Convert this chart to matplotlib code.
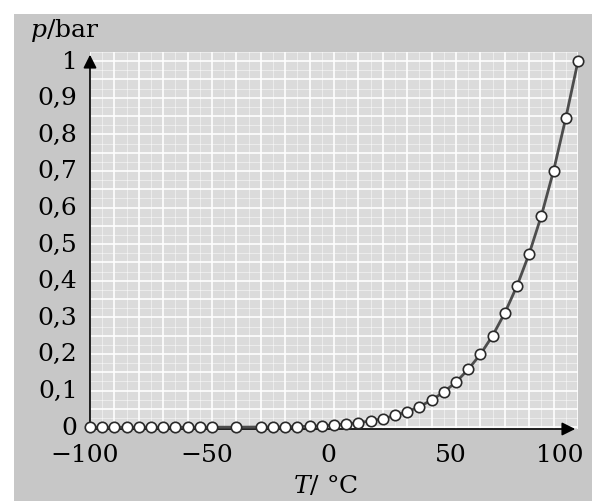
import matplotlib
matplotlib.use("Agg")
import matplotlib.pyplot as plt
import numpy as np
from matplotlib.patches import Rectangle
from matplotlib.ticker import MultipleLocator

# vapour pressure of water
temps = [-100, -95, -90, -85, -80, -75, -70, -65, -60, -55, -50,
         -40, -30, -25, -20, -15, -10, -5, 0, 5, 10, 15, 20, 25, 30,
         35, 40, 45, 50, 55, 60, 65, 70, 75, 80, 85, 90, 95, 100]
pressures = [0.0, 0.0, 0.0, 0.0, 0.0, 0.0, 0.0, 0.0, 0.0, 0.0, 0.0,
             0.0, 0.0004, 0.0006, 0.001, 0.0017, 0.0026, 0.004, 0.006,
             0.009, 0.012, 0.017, 0.023, 0.032, 0.042, 0.056, 0.074,
             0.096, 0.123, 0.158, 0.199, 0.250, 0.312, 0.386, 0.474,
             0.578, 0.701, 0.845, 1.0]

y_ticks = [0, 0.1, 0.2, 0.3, 0.4, 0.5, 0.6, 0.7, 0.8, 0.9, 1]
y_labels = ["0", "0,1", "0,2", "0,3", "0,4", "0,5", "0,6", "0,7", "0,8", "0,9", "1"]
x_ticks = [-100, -50, 0, 50, 100]
x_labels = ["\u2212100", "\u221250", "0", "50", "100"]

plt.rcParams["font.family"] = ["DejaVu Serif"]
plt.rcParams["mathtext.fontset"] = "dejavuserif"

W, H = 592, 502
fig = plt.figure(figsize=(W / 100, H / 100), dpi=100, facecolor="white")

# scanned page background
fig.patches.append(Rectangle((14 / W, 0), 1, (H - 15) / H, transform=fig.transFigure,
                             facecolor="#c7c7c7", edgecolor="none", zorder=-5))

ax = fig.add_axes([90 / W, 72 / H, 488 / W, 377 / H])
ax.set_facecolor("#dbdbdb")
ax.set_xlim(-100, 100)
ax.set_ylim(-0.005, 1.025)

ax.xaxis.set_major_locator(MultipleLocator(10))
ax.xaxis.set_minor_locator(MultipleLocator(5))
ax.yaxis.set_major_locator(MultipleLocator(0.05))
ax.yaxis.set_minor_locator(MultipleLocator(0.025))
ax.grid(which="major", color="white", lw=1.4, alpha=0.85)
ax.grid(which="minor", color="white", lw=0.8, alpha=0.45)
ax.set_axisbelow(True)

for s in ax.spines.values():
    s.set_visible(False)
ax.tick_params(which="both", length=0, labelbottom=False, labelleft=False)

ax.plot(temps, pressures, color="#4d4d4d", lw=2.0, marker="o", ms=7.5,
        mfc="white", mec="#2a2a2a", mew=1.2, clip_on=False, zorder=5)

# arrow axes
ax.annotate("", xy=(0, 1), xytext=(0, 0), xycoords="axes fraction",
            arrowprops=dict(arrowstyle="-|>", mutation_scale=20, lw=1.2, color="black"))
ax.annotate("", xy=(1, 0), xytext=(0, 0), xycoords="axes fraction",
            arrowprops=dict(arrowstyle="-|>", mutation_scale=20, lw=1.2, color="black"))

# tick labels
for v, lab in zip(y_ticks, y_labels):
    ax.annotate(lab, xy=(0, v), xycoords=("axes fraction", "data"), xytext=(-9, 0),
                textcoords="offset points", ha="right", va="center", fontsize=18)
for i, (v, lab) in enumerate(zip(x_ticks, x_labels)):
    ha = "right" if i == len(x_ticks) - 1 else "center"
    dx = 4 if i == len(x_ticks) - 1 else -4
    ax.annotate(lab, xy=(v, 0), xycoords=("data", "axes fraction"), xytext=(dx, -10),
                textcoords="offset points", ha=ha, va="top", fontsize=18)

fig.text(30 / W, 1 - 31 / H, "$p$/bar", ha="left", va="center", fontsize=18)
fig.text(326 / W, 1 - 486 / H, "$T$/ \u00b0C", ha="center", va="center", fontsize=18)

fig.savefig("out.png", dpi=100, facecolor=fig.get_facecolor())
